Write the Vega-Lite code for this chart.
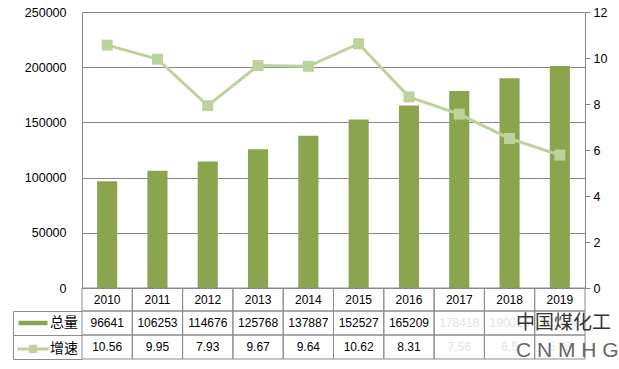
{
  "$schema": "https://vega.github.io/schema/vega-lite/v6.json",
  "width": 503,
  "height": 276,
  "autosize": "none",
  "padding": {"left": 82, "top": 12, "right": 34, "bottom": 81},
  "background": "white",
  "title": {
    "text": "中国煤化工",
    "subtitle": "C N M H G",
    "orient": "bottom",
    "anchor": "start",
    "frame": "group",
    "dx": 434,
    "offset": -46,
    "font": "Noto Sans CJK SC",
    "fontSize": 19,
    "fontWeight": "normal",
    "color": "#333333",
    "subtitleFont": "Liberation Sans",
    "subtitleFontSize": 21,
    "subtitleColor": "#666666",
    "subtitlePadding": 7
  },
  "config": {
    "view": {"stroke": null},
    "font": "Liberation Sans",
    "axis": {"labelFont": "Liberation Sans", "labelColor": "#000000", "title": null}
  },
  "data": {
    "values": [
      {"年份": 2010, "总量": 96641, "增速": 10.56},
      {"年份": 2011, "总量": 106253, "增速": 9.95},
      {"年份": 2012, "总量": 114676, "增速": 7.93},
      {"年份": 2013, "总量": 125768, "增速": 9.67},
      {"年份": 2014, "总量": 137887, "增速": 9.64},
      {"年份": 2015, "总量": 152527, "增速": 10.62},
      {"年份": 2016, "总量": 165209, "增速": 8.31},
      {"年份": 2017, "总量": 178418, "增速": 7.56},
      {"年份": 2018, "总量": 190015, "增速": 6.5},
      {"年份": 2019, "总量": 201000, "增速": 5.78}
    ]
  },
  "layer": [
    {
      "mark": {"type": "bar"},
      "encoding": {
        "x": {"field": "年份", "type": "ordinal", "scale": {"type": "band", "paddingInner": 0.6, "paddingOuter": 0.3}, "axis": null},
        "y": {"field": "总量", "type": "quantitative", "scale": {"domain": [0, 250000]},
          "axis": {"orient": "left", "values": [0, 50000, 100000, 150000, 200000, 250000], "format": "d", "grid": true, "gridColor": "#868686", "gridOpacity": 1, "domainColor": "#868686", "ticks": false, "labelPadding": 16, "labelFontSize": 12.5}},
        "color": {"datum": "总量", "type": "nominal",
          "scale": {"domain": ["总量", "增速"], "range": ["#8aa54e", "#bcd39b"]},
          "legend": {
            "orient": "none", "legendX": -56, "legendY": 304, "direction": "vertical",
            "title": null, "padding": 0, "rowPadding": 10, "labelOffset": 10,
            "labelFont": "Noto Sans CJK SC", "labelFontSize": 14, "labelColor": "#000000",
            "symbolSize": 100,
            "encode": {"symbols": {"update": {
              "shape": {"signal": "datum.value === '总量' ? 'M-2.9,-0.45H2.9V0.45H-2.9Z' : 'M-3.1,0H3.1M-0.53,-0.53H0.53V0.53H-0.53Z'"},
              "size": {"value": 100},
              "strokeWidth": {"signal": "datum.value === '总量' ? 0 : 3"},
              "fill": {"signal": "scale('color', datum.value)"},
              "stroke": {"signal": "scale('color', datum.value)"},
              "opacity": {"value": 1},
              "fillOpacity": {"value": 1},
              "strokeOpacity": {"value": 1}
            }}}
          }}
      }
    },
    {
      "mark": {"type": "line", "strokeWidth": 3, "point": {"shape": "square", "size": 121, "filled": true, "opacity": 1}},
      "encoding": {
        "x": {"field": "年份", "type": "ordinal", "scale": {"type": "band", "paddingInner": 0.6, "paddingOuter": 0.3}, "axis": null},
        "y": {"field": "增速", "type": "quantitative", "scale": {"domain": [0, 12]},
          "axis": {"orient": "right", "values": [0, 2, 4, 6, 8, 10, 12], "grid": false, "domainColor": "#868686", "tickColor": "#868686", "tickSize": 5, "labelPadding": 3, "labelFontSize": 12.5}},
        "color": {"datum": "增速", "type": "nominal"}
      }
    },
    {
      "mark": {"type": "rect", "fill": "transparent", "stroke": "#8c8c8c", "strokeWidth": 1},
      "encoding": {
        "x": {"field": "年份", "type": "ordinal", "scale": {"type": "band", "paddingInner": 0, "paddingOuter": 0}, "axis": null},
        "y": {"datum": "yr", "type": "nominal", "scale": {"type": "band", "domain": ["yr"], "range": [276, 299], "paddingInner": 0, "paddingOuter": 0}, "axis": null}
      }
    },
    {
      "mark": {"type": "text", "fontSize": 12, "font": "Liberation Sans", "color": "#000000"},
      "encoding": {
        "x": {"field": "年份", "type": "ordinal", "scale": {"type": "band", "paddingInner": 0, "paddingOuter": 0}, "axis": null},
        "y": {"datum": "yr", "type": "nominal", "scale": {"type": "band", "domain": ["yr"], "range": [276, 299], "paddingInner": 0, "paddingOuter": 0}, "axis": null},
        "text": {"field": "年份", "type": "ordinal"}
      }
    },
    {
      "transform": [{"fold": ["总量", "增速"], "as": ["指标", "数值"]}],
      "mark": {"type": "rect", "fill": "transparent", "stroke": "#8c8c8c", "strokeWidth": 1},
      "encoding": {
        "x": {"field": "年份", "type": "ordinal", "scale": {"type": "band", "paddingInner": 0, "paddingOuter": 0}, "axis": null},
        "y": {"field": "指标", "type": "nominal", "scale": {"type": "band", "domain": ["总量", "增速"], "range": [299, 347], "paddingInner": 0, "paddingOuter": 0},
          "axis": {"orient": "left", "offset": 69, "tickBand": "extent", "tickSize": -69, "tickColor": "#8c8c8c", "domainColor": "#8c8c8c", "labels": false, "grid": false}}
      }
    },
    {
      "transform": [{"fold": ["总量", "增速"], "as": ["指标", "数值"]}],
      "mark": {"type": "text", "fontSize": 12, "font": "Liberation Sans"},
      "encoding": {
        "x": {"field": "年份", "type": "ordinal", "scale": {"type": "band", "paddingInner": 0, "paddingOuter": 0}, "axis": null},
        "y": {"field": "指标", "type": "nominal", "scale": {"type": "band", "domain": ["总量", "增速"], "range": [299, 347], "paddingInner": 0, "paddingOuter": 0}, "axis": null},
        "text": {"field": "数值", "type": "quantitative"},
        "color": {"condition": {"test": "datum['年份'] >= 2017", "value": "#e4e4e4"}, "value": "#000000"}
      }
    }
  ],
  "resolve": {"scale": {"x": "independent", "y": "independent"}, "axis": {"x": "independent", "y": "independent"}}
}
